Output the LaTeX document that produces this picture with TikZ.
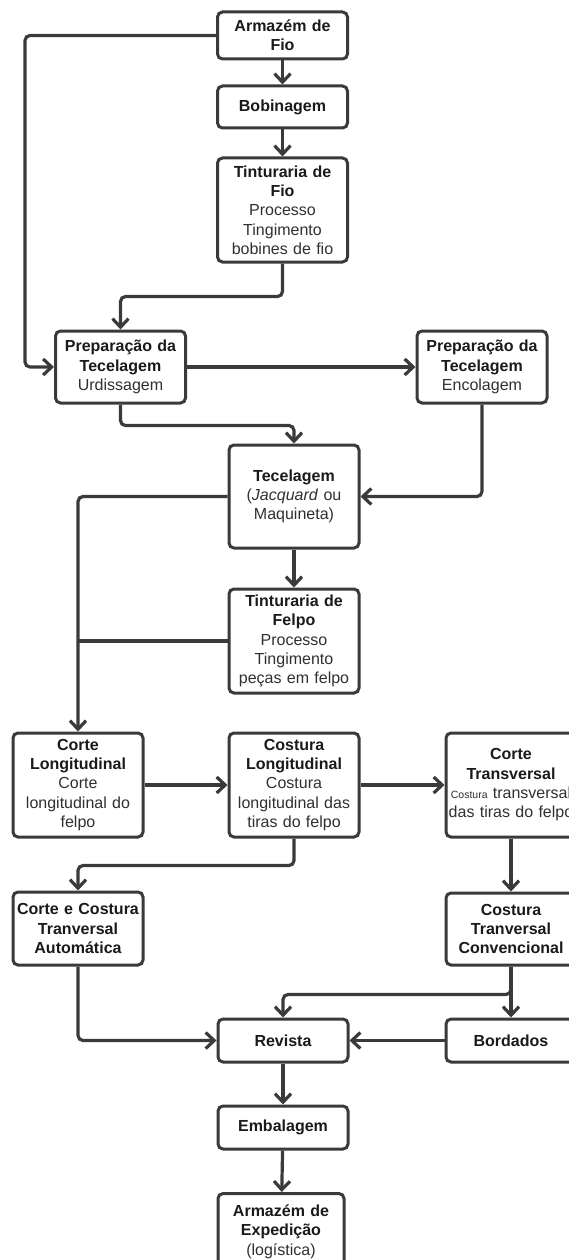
\documentclass[tikz,border=0pt]{standalone}
\usepackage{fontspec}
\setmainfont{Liberation Sans}
\usetikzlibrary{arrows.meta}
\definecolor{ln}{HTML}{3A3A3A}
\definecolor{tb}{HTML}{1A1A1A}
\definecolor{tr}{HTML}{303030}
\tikzset{
  box/.style={draw=ln, line width=3pt, rounded corners=5pt, fill=white,
    minimum width=130pt, text width=126pt, inner xsep=2pt, inner ysep=0pt,
    align=center, text=tb, font=\fontsize{16}{19.3}\selectfont},
  conn/.style={draw=ln, line width=3.2pt, rounded corners=5pt},
  arr/.style={conn, -{Straight Barb[length=8.5pt,width=16pt,line width=3.2pt]}},
}
\newcommand{\rg}[1]{{\mdseries\color{tr}#1}}
\begin{document}
\begin{tikzpicture}[x=1pt,y=-1pt]
\useasboundingbox (0,0) rectangle (569,1260);
% nodes
\node[box, minimum height=47pt] (af) at (282.5,35.5) {\bfseries Armazém de\\Fio};
\node[box, minimum height=42pt] (bo1) at (282.5,107) {\bfseries Bobinagem};
\node[box, minimum height=104pt] (tf) at (282.5,210) {\bfseries Tinturaria de\\Fio\\\rg{Processo\\Tingimento\\bobines de fio}};
\node[box, minimum height=72pt] (pl) at (120.5,367) {\bfseries Preparação da\\Tecelagem\\\rg{Urdissagem}};
\node[box, minimum height=72pt] (pr) at (482,367) {\bfseries Preparação da\\Tecelagem\\\rg{Encolagem}};
\node[box, minimum height=103pt] (te) at (294,496.5) {\bfseries Tecelagem\\\rg{(\textit{Jacquard} ou\\Maquineta)}};
\node[box, minimum height=104pt] (tfe) at (294,641) {\bfseries Tinturaria de\\Felpo\\\rg{Processo\\Tingimento\\peças em felpo}};
\node[box, minimum height=104pt] (cl) at (78,785) {\bfseries Corte\\Longitudinal\\\rg{Corte\\longitudinal do\\felpo}};
\node[box, minimum height=104pt] (cs) at (294,785) {\bfseries Costura\\Longitudinal\\\rg{Costura\\longitudinal das\\tiras do felpo}};
\node[box, minimum height=104pt] (ct) at (511,785) {\bfseries Corte\\Transversal\\\rg{{\fontsize{10.5}{12}\selectfont Costura} transversal\\das tiras do felpo}};
\node[box, minimum height=73pt] (cc) at (78,928.5) {\bfseries Corte e Costura\\Tranversal\\Automática};
\node[box, minimum height=72pt] (ctv) at (511,929) {\bfseries Costura\\Tranversal\\Convencional};
\node[box, minimum height=43pt] (rv) at (283,1040.5) {\bfseries Revista};
\node[box, minimum height=43pt] (bd) at (511,1040.5) {\bfseries Bordados};
\node[box, minimum height=43pt] (em) at (283,1127.5) {\bfseries Embalagem};
\node[box, minimum width=126pt, text width=122pt, minimum height=76pt, anchor=north] (ae) at (281,1192) {\bfseries Armazém de\\Expedição\\\rg{(logística)}\\[8pt]};
% helper coordinates
\coordinate (lx) at (25,0);
% connectors
\draw[arr] (af) -- (bo1);
\draw[arr] (bo1) -- (tf);
\draw[arr] (af.west) -| (lx |- pl.west) -- (pl.west);
\draw[arr] (tf.south) -- ++(0,33) -| (pl.north);
\draw[arr] (pl) -- (pr);
\draw[arr] (pl.south) -- ++(0,21) -| (te.north);
\draw[arr] (pr.south) |- (te.east);
\draw[arr] (te.west) -| (cl.north);
\draw[arr] (te) -- (tfe);
\draw[conn] (tfe.west) -- (tfe.west -| cl.north);
\draw[arr] (cl) -- (cs);
\draw[arr] (cs) -- (ct);
\draw[arr] (cs.south) -- ++(0,27) -| (cc.north);
\draw[arr] (ct) -- (ctv);
\draw[arr] (cc.south) |- (rv.west);
\draw[arr] (ctv.south) -- (bd.north);
\draw[arr] (ctv.south) -- ++(0,28) -| (rv.north);
\draw[arr] (bd) -- (rv);
\draw[arr] (rv) -- (em);
\draw[arr] (em) -- (ae);
\end{tikzpicture}
\end{document}
